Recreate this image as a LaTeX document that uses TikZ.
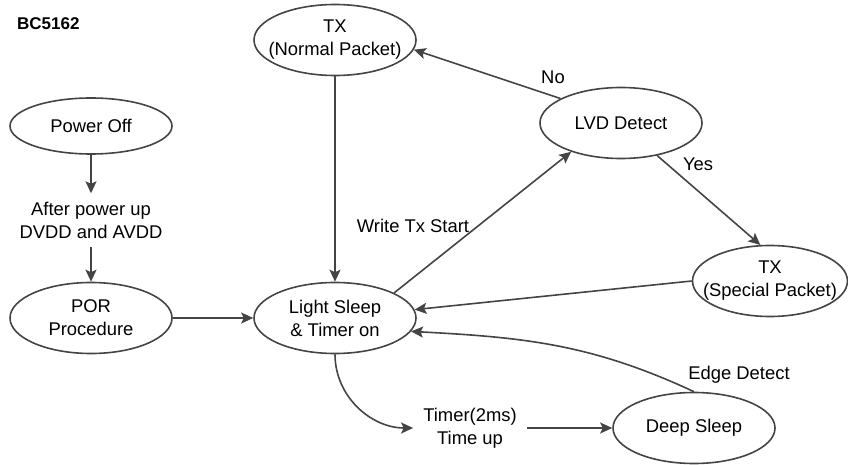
\documentclass[tikz,border=0pt]{standalone}
\usepackage{fontspec}
\setmainfont{Liberation Sans}
\usetikzlibrary{arrows.meta,positioning,shapes.geometric}
\definecolor{edge}{HTML}{444444}
\tikzset{
  st/.style ={draw=edge,ellipse,line width=1.6pt,inner sep=0pt,minimum width=162pt,
              minimum height=71pt,label={[lbl]center:#1}},
  lbl/.style={align=center,inner sep=0pt,font=\fontsize{18.4}{23}\selectfont},
  ar/.style ={draw=edge,line width=1.6pt,-{Stealth[length=12pt,width=11pt,inset=2.5pt]}},
}

\begin{document}
\begin{tikzpicture}[x=1pt,y=1pt]
  \useasboundingbox (0,0) rectangle (848,464);
  \node[anchor=west,inner sep=0pt,font=\bfseries\fontsize{17}{20}\selectfont] (title) at (17,440) {BC5162};
  \node[st={Power Off},minimum height=56pt] (off) at (91,338) {};
  \node[lbl,minimum height=53pt] (pwrup) at (91,244) {After power up\\DVDD and AVDD};
  \node[st={POR\\Procedure}] (por) at (91,146) {};
  \node[st={Light Sleep\\\& Timer on}] (light) at (335,146) {};
  \node[st={TX\\(Normal Packet)}] (txn) at (335,424) {};
  \node[st={LVD Detect}] (lvd) at (621,341) {};
  \node[st={TX\\(Special Packet)},minimum width=155pt] (txs) at (770,183) {};
  \node[st={Deep Sleep}] (deep) at (694,36) {};
  \node[lbl,inner xsep=10pt] (timer) at (470,36) {Timer(2ms)\\Time up};
  \node[lbl] (wtx) at (413,238) {Write Tx Start};
  \node[lbl] (no) at (553,387) {No};
  \node[lbl] (yes) at (698,300) {Yes};
  \node[lbl] (edge) at (739,89) {Edge Detect};

  \draw[ar] (off) -- (pwrup);
  \draw[ar] (pwrup) -- (por);
  \draw[ar] (por) -- (light);
  \draw[ar] (txn) -- (light);
  \draw[ar] (light.23) -- (lvd.210);
  \draw[ar] (lvd.158) -- (txn.353);
  \draw[ar] (lvd.318) -- (txs.105);
  \draw[ar] (txs.180) -- (light.6);
  \draw[ar] (deep.north) to[out=155,in=-3] (light.350);
  \draw[ar] (light.south) to[out=-90,in=180] (timer.west);
  \draw[ar] (timer) -- (deep);
\end{tikzpicture}
\end{document}
